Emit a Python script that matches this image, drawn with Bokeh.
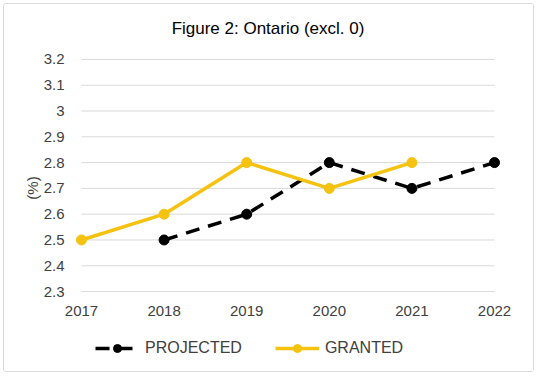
from bokeh.plotting import figure
from bokeh.models import FixedTicker, Legend, LegendItem, Range1d, Label
from bokeh.embed import file_html
from bokeh.resources import INLINE

title_text = "Figure 2: Ontario (excl. 0)"
years_projected = [2018, 2019, 2020, 2021, 2022]
projected = [2.5, 2.6, 2.8, 2.7, 2.8]
years_granted = [2017, 2018, 2019, 2020, 2021]
granted = [2.5, 2.6, 2.8, 2.7, 2.8]
x_ticks = [2017, 2018, 2019, 2020, 2021, 2022]
y_ticks = [2.3, 2.4, 2.5, 2.6, 2.7, 2.8, 2.9, 3.0, 3.1, 3.2]
y_tick_labels = ["2.3", "2.4", "2.5", "2.6", "2.7", "2.8", "2.9", "3", "3.1", "3.2"]

YELLOW = "#F4C20F"
FONT = "Liberation Sans"
GREY_TEXT = "#404040"

# the frame fills the whole bordered box; axes sit at fixed positions inside it
p = figure(frame_width=529, frame_height=367, output_backend="svg", toolbar_location=None,
           x_range=Range1d(2016.068, 2022.472), y_range=Range1d(1.99, 3.413),
           min_border=0,
           styles={"border": "1px solid #d9d9d9", "border-radius": "3px",
                   "margin-left": "3px", "margin-top": "3px"})
p.outline_line_color = None
p.background_fill_color = "white"
p.border_fill_color = "white"

p.add_layout(Label(x=263.5, y=343, x_units="screen", y_units="screen", text=title_text,
                   text_align="center", text_baseline="alphabetic", text_font=FONT,
                   text_font_size="17px", text_color="#000000"))

p.xaxis.ticker = FixedTicker(ticks=x_ticks)
p.yaxis.ticker = FixedTicker(ticks=y_ticks)
p.yaxis.major_label_overrides = {v: s for v, s in zip(y_ticks, y_tick_labels)}
p.xaxis.fixed_location = y_ticks[0]
p.yaxis.fixed_location = x_ticks[0]
for ax in (p.xaxis[0], p.yaxis[0]):
    ax.axis_line_color = None
    ax.major_tick_line_color = None
    ax.minor_tick_line_color = None
    ax.major_label_text_font = FONT
    ax.major_label_text_font_size = "15px"
    ax.major_label_text_color = GREY_TEXT
p.xaxis.major_label_standoff = 8
p.yaxis.major_label_standoff = 11
p.yaxis.axis_label = "(%)"
p.yaxis.axis_label_text_font = FONT
p.yaxis.axis_label_text_font_size = "15px"
p.yaxis.axis_label_text_font_style = "normal"
p.yaxis.axis_label_text_color = GREY_TEXT
p.yaxis.axis_label_standoff = 0

p.xgrid.grid_line_color = None
p.ygrid.grid_line_color = None
p.segment(x0=x_ticks[0], x1=x_ticks[-1], y0=y_ticks, y1=y_ticks,
          line_color="#d9d9d9", line_width=1)

l1 = p.line(years_projected, projected, line_color="black", line_width=3.5, line_dash="14 9")
c1 = p.scatter(years_projected, projected, size=10, fill_color="black", line_color="black")
l2 = p.line(years_granted, granted, line_color=YELLOW, line_width=3.5)
c2 = p.scatter(years_granted, granted, size=10, fill_color=YELLOW, line_color=YELLOW)

legend = Legend(items=[LegendItem(label="PROJECTED", renderers=[l1, c1]),
                       LegendItem(label="GRANTED", renderers=[l2, c2])],
                orientation="horizontal", location=(91, 13),
                label_text_font=FONT, label_text_font_size="16px", label_text_color=GREY_TEXT,
                glyph_width=44, spacing=33, label_standoff=6, padding=6, margin=0,
                background_fill_alpha=0, border_line_color=None)
p.add_layout(legend, "center")

open("out.html", "w").write(file_html(p, INLINE))
